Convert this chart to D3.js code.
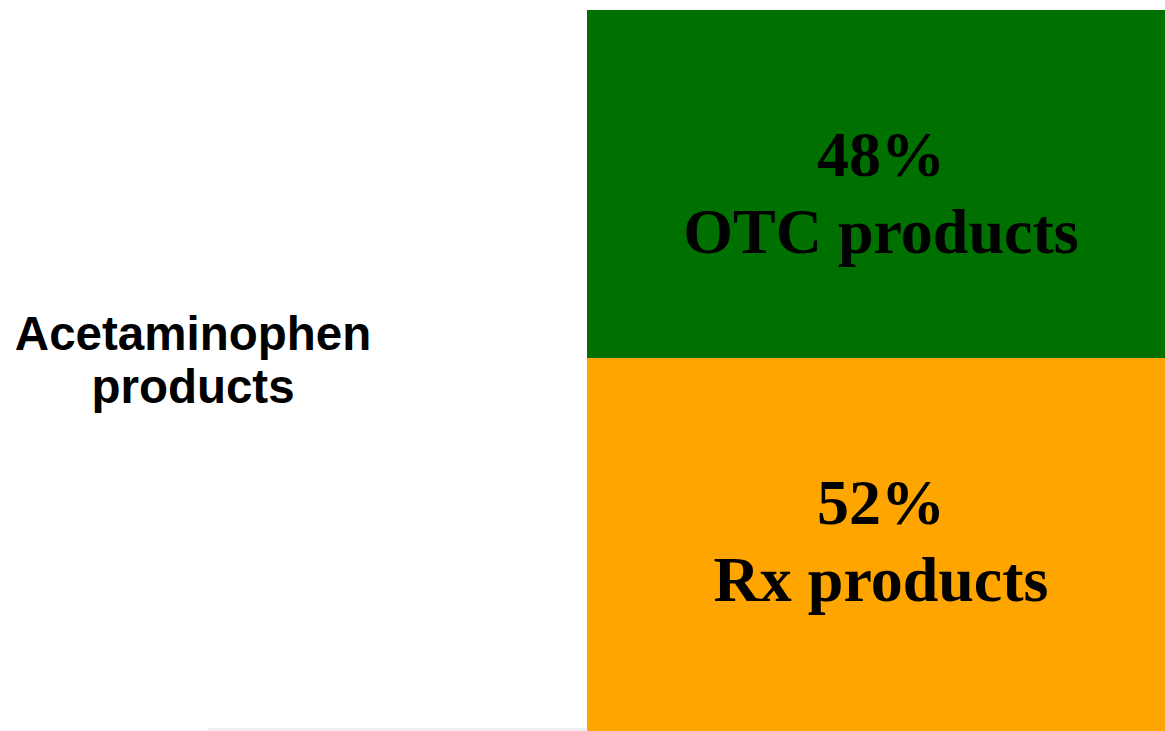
<!DOCTYPE html>
<html>
<head>
<meta charset="utf-8">
<script src="https://cdn.jsdelivr.net/npm/d3@7"></script>
<style>
  html, body { margin: 0; padding: 0; background: #fff; }
  svg { display: block; }
</style>
</head>
<body>
<svg id="chart" width="1165" height="731"></svg>
<script>
// data
var categories = ["Acetaminophen products"];
var segments = ["OTC products", "Rx products"];
var shares = [48, 52];
var colors = ["#007000", "#ffa500"];

var width = 1165, height = 731;
var svg = d3.select("#chart");

var x = d3.scaleBand().domain(categories).range([587, 1175]).padding(0);
var y = d3.scaleLinear().domain([0, 100]).range([10, 735]);

// stack the segments top-down
var row = {};
segments.forEach(function(s, i) { row[s] = shares[i]; });
var stacked = d3.stack().keys(segments)([row]);

var groups = svg.selectAll(".seg")
  .data(stacked)
  .enter()
  .append("g")
  .classed("seg", true);

groups.append("rect")
  .attr("x", x(categories[0]))
  .attr("width", x.bandwidth())
  .attr("y", d => y(d[0][0]))
  .attr("height", d => y(d[0][1]) - y(d[0][0]))
  .attr("fill", (d, i) => colors[i]);

var labels = groups.append("text")
  .attr("text-anchor", "middle")
  .attr("font-family", "'Liberation Serif', 'Times New Roman', serif")
  .attr("font-weight", "bold")
  .attr("font-size", 64)
  .attr("fill", "#000");

labels.append("tspan")
  .attr("x", x(categories[0]) + x.bandwidth() / 2)
  .attr("y", d => y(d[0][0]) + 166)
  .text((d, i) => shares[i] + "%");

labels.append("tspan")
  .attr("x", x(categories[0]) + x.bandwidth() / 2)
  .attr("dy", 77)
  .text(d => d.key);

// faint shadow under the left area
svg.append("rect")
  .attr("x", 208)
  .attr("y", 728)
  .attr("width", 587 - 208)
  .attr("height", 3)
  .attr("fill", "#efefef");

// category label on the left
var catLabel = svg.append("text")
  .attr("text-anchor", "middle")
  .attr("font-family", "'Liberation Sans', Arial, sans-serif")
  .attr("font-weight", "bold")
  .attr("font-size", 47.5)
  .attr("fill", "#000");

var words = categories[0].split(" ");
words.forEach(function(w, i) {
  catLabel.append("tspan")
    .attr("x", 193)
    .attr("y", 350 + i * 53)
    .text(w);
});
</script>
</body>
</html>
